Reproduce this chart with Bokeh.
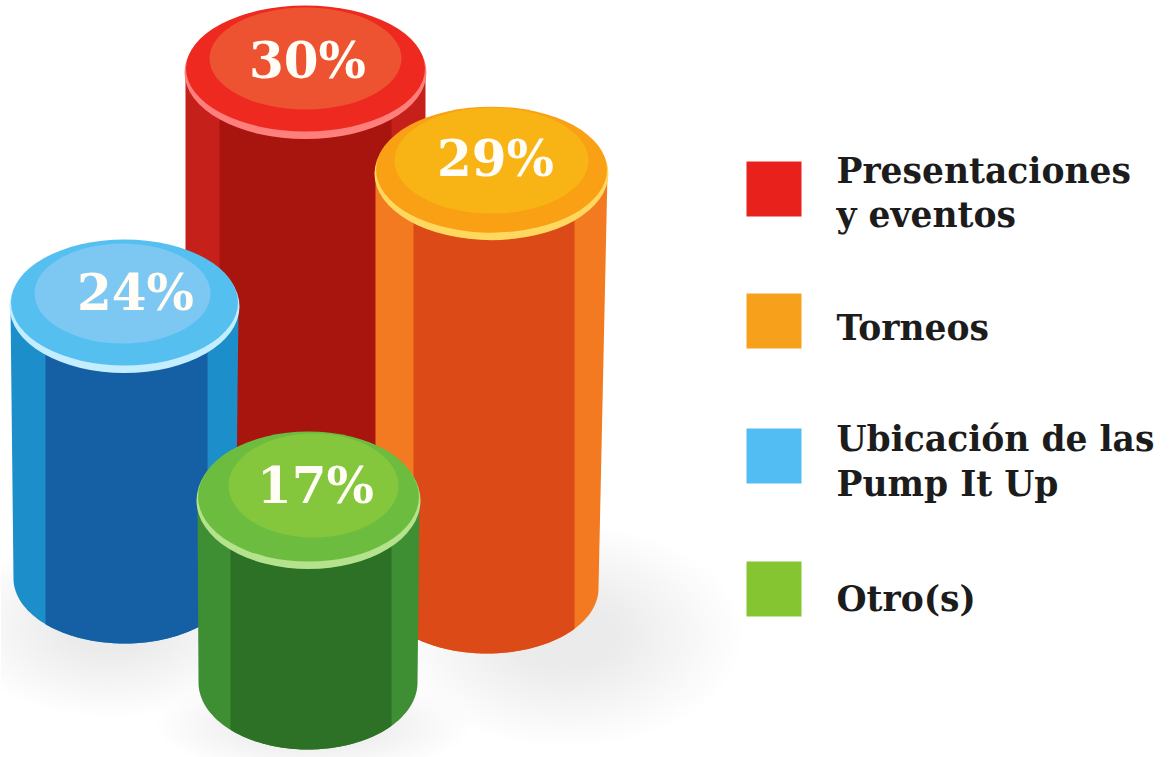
import numpy as np
from bokeh.core.properties import value
from bokeh.embed import file_html
from bokeh.models import Range1d
from bokeh.plotting import figure
from bokeh.resources import INLINE

# Survey shares, drawn back to front
categories = ["Presentaciones\ny eventos", "Torneos", "Ubicación de las\nPump It Up", "Otro(s)"]
shares = [30, 29, 24, 17]

# Column placement on the page
base_x = [305, 491, 124, 308]
base_y = [491, 588, 578, 682]
radius_x = [120, 116, 114, 111]
radius_y = [65, 65, 65, 67]
height_per_point = [14.0, 14.34, 11.375, 10.76]
taper_left = [0, 0, 3, 1]
taper_right = [0, 9, 3, 2]
band_left = [34, 38, 35, 33]
band_right = [34, 33, 31, 28]
inner_shift_y = [-13, -12, -12, -14]
inner_shift_x = [0, 0, -2, 5]
inner_rx = [96, 97, 88, 85]
inner_ry = [51, 53, 50, 52]
label_shift_x = [2, 4, 11, 7]
label_shift_y = [-11, -14, -13, -14]

# Colours for side highlights, body, lid, inner disc and lid rim
side_colors = ["#c5201a", "#f37a20", "#1c8ec9", "#3e8f33"]
body_colors = ["#a8150e", "#db4a17", "#155fa5", "#2c7125"]
lid_colors = ["#ee2a20", "#f9a015", "#55bff0", "#6cbd3f"]
disc_colors = ["#ee5331", "#f8b414", "#7cc8f2", "#84c63c"]
rim_colors = ["#ff7f7c", "#ffd860", "#c4eeff", "#b5e28c"]

# Legend
legend_colors = ["#e8211d", "#f7a01b", "#52bdf3", "#85c532"]
legend_swatch_top = [161, 293, 428, 561]
legend_line_centers = [[170, 214], [327], [438, 483], [598]]

# Soft ground shadows: centre x, centre y, width, height
shadow_x = [565, 110, 312]
shadow_y = [635, 625, 725]
shadow_w = [270, 240, 240]
shadow_h = [170, 140, 75]

p = figure(width=1169, height=757, output_backend="svg", toolbar_location=None,
           x_range=Range1d(0, 1169), y_range=Range1d(757, 0),
           min_border=0, outline_line_color=None, background_fill_color="white")
p.axis.visible = False
p.grid.visible = False

for sx, sy, sw, sh in zip(shadow_x, shadow_y, shadow_w, shadow_h):
    for grow in np.linspace(1.3, 0.4, 20):
        p.ellipse(x=sx, y=sy, width=sw * grow, height=sh * grow,
                  fill_color="#9a9fa8", fill_alpha=0.011, line_color=None)

FONT = value("DejaVu Serif")

for i, share in enumerate(shares):
    cx, by, rx, ry = base_x[i], base_y[i], radius_x[i], radius_y[i]
    top = by - share * height_per_point[i]

    # Each side can narrow slightly on its way down to the base ellipse
    bottom_rx = rx - (taper_left[i] + taper_right[i]) / 2
    bottom_cx = cx + (taper_left[i] - taper_right[i]) / 2

    # Outer silhouette: straight sides closing on the lower half of the base ellipse
    t = np.linspace(np.pi, 0, 80)
    xs = np.r_[cx - rx, bottom_cx + bottom_rx * np.cos(t), cx + rx]
    ys = np.r_[top, by + ry * np.sin(t), top]
    p.patch(xs, ys, fill_color=side_colors[i], line_color=None)

    # Darker centre of the column, leaving the lighter bands at each side
    left = cx - rx + band_left[i]
    right = cx + rx - band_right[i]
    span = np.linspace(left, right, 60)
    edge = by + ry * np.sqrt(np.clip(1 - ((span - bottom_cx) / bottom_rx) ** 2, 0, 1))
    p.patch(np.r_[left, span, right], np.r_[top, edge, top],
            fill_color=body_colors[i], line_color=None)

    # Lid: rim crescent, lid face, raised inner disc
    p.ellipse(x=cx, y=top + 1, width=2 * rx + 2, height=2 * ry + 3,
              fill_color=rim_colors[i], line_color=None)
    p.ellipse(x=cx, y=top - 3, width=2 * rx - 1, height=2 * ry - 4,
              fill_color=lid_colors[i], line_color=None)
    p.ellipse(x=cx + inner_shift_x[i], y=top + inner_shift_y[i],
              width=2 * inner_rx[i], height=2 * inner_ry[i],
              fill_color=disc_colors[i], line_color=None)

    p.text(x=[cx + label_shift_x[i]], y=[top + label_shift_y[i]], text=[f"{share}%"],
           text_font=FONT, text_font_style="bold", text_font_size="50px",
           text_color="#fffdf5", text_align="center", text_baseline="middle")

for i, label in enumerate(categories):
    p.quad(left=746, right=801, top=legend_swatch_top[i], bottom=legend_swatch_top[i] + 55,
           fill_color=legend_colors[i], line_color=None)
    for line, center in zip(label.split("\n"), legend_line_centers[i]):
        p.text(x=[836], y=[center], text=[line], text_font=FONT, text_font_style="bold",
               text_font_size="34.5px", text_color="#1c1c1c",
               text_align="left", text_baseline="middle")

open("out.html", "w").write(file_html(p, INLINE))
